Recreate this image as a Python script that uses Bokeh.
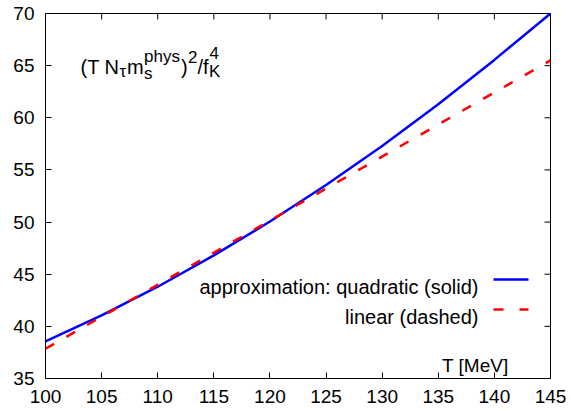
from bokeh.plotting import figure
from bokeh.models import LinearAxis, Label, Range1d, FixedTicker
from bokeh.embed import file_html
from bokeh.resources import INLINE

# ---- data ----
T_quad = [100, 105, 110, 115, 120, 125, 130, 135, 140, 145]
quadratic = [38.55, 41.05, 43.8, 46.8, 50.05, 53.55, 57.3, 61.3, 65.55, 70.0]
T_lin = [100, 145]
linear = [37.85, 65.5]
x_ticks = [100, 105, 110, 115, 120, 125, 130, 135, 140, 145]
y_ticks = [35, 40, 45, 50, 55, 60, 65, 70]

FONT = "Liberation Sans"
W, H = 571, 411
L, R, TOP, B = 45, 21, 13, 33
X0, X1, Y0, Y1 = 100, 145, 35, 70
FW = W - L - R
FH = H - TOP - B
TICK = 6  # px

p = figure(width=W, height=H, output_backend="svg", toolbar_location=None,
           x_range=Range1d(X0, X1), y_range=Range1d(Y0, Y1),
           min_border_left=L, min_border_right=R, min_border_top=TOP, min_border_bottom=B,
           x_axis_location=None, y_axis_location=None)
p.xgrid.visible = False
p.ygrid.visible = False
p.outline_line_color = "black"
p.outline_line_width = 1
p.background_fill_color = "white"
p.border_fill_color = "white"

def style_axis(ax, ticks, standoff):
    ax.ticker = FixedTicker(ticks=ticks)
    ax.major_tick_in = TICK
    ax.major_tick_out = 0
    ax.minor_tick_line_color = None
    ax.axis_line_color = "black"
    ax.major_tick_line_color = "black"
    ax.major_label_text_font = FONT
    ax.major_label_text_font_size = "19px"
    ax.major_label_text_color = "black"
    ax.major_label_standoff = standoff

xb = LinearAxis(); style_axis(xb, x_ticks, 11); p.add_layout(xb, "below")
yl = LinearAxis(); style_axis(yl, y_ticks, 11); p.add_layout(yl, "left")

# mirrored inward ticks on top and right edges
dx = TICK / FW * (X1 - X0)
dy = TICK / FH * (Y1 - Y0)
p.segment(x0=x_ticks, y0=[Y1] * len(x_ticks), x1=x_ticks, y1=[Y1 - dy] * len(x_ticks),
          line_color="black", line_width=1)
p.segment(x0=[X1] * len(y_ticks), y0=y_ticks, x1=[X1 - dx] * len(y_ticks), y1=y_ticks,
          line_color="black", line_width=1)

p.line(T_quad, quadratic, line_color="#0000ff", line_width=2.5)
p.line(T_lin, linear, line_color="#ff0000", line_width=2.5, line_dash="10 14")

def px(x):
    return X0 + (x - L) / FW * (X1 - X0)
def py(y):
    return Y1 - (y - TOP) / FH * (Y1 - Y0)

def txt(x, y, s, size=19, align="left"):
    p.add_layout(Label(x=px(x), y=py(y), text=s, text_font=FONT,
                       text_font_size=f"{size}px", text_align=align,
                       text_baseline="alphabetic", text_color="black"))

# legend
txt(478, 286, "approximation: quadratic (solid)", 20, align="right")
txt(478, 316, "linear (dashed)", 20, align="right")
p.line([px(493), px(528)], [py(279), py(279)], line_color="#0000ff", line_width=2.5)
p.line([px(493), px(528)], [py(309), py(309)], line_color="#ff0000", line_width=2.5,
       line_dash="10 16")

# axis label
txt(508, 365, "T [MeV]", 19, align="right")

# title (T N_tau m_s^phys)^2 / f_K^4
base, sub, subs, sup = 66, 71, 73, 56
txt(80, base, "(T N", 20)
txt(119, sub, "τ", 17)
txt(126.5, base, "m", 20)
txt(143.5, subs, "s", 17)
txt(143.5, sup, "phys", 17)
txt(180.5, base, ")", 20)
txt(187.5, sup, "2", 17)
txt(197, base, "/f", 20)
txt(208.5, sub, "K", 17)
txt(209, sup - 4, "4", 17)

open("out.html", "w").write(file_html(p, INLINE))
